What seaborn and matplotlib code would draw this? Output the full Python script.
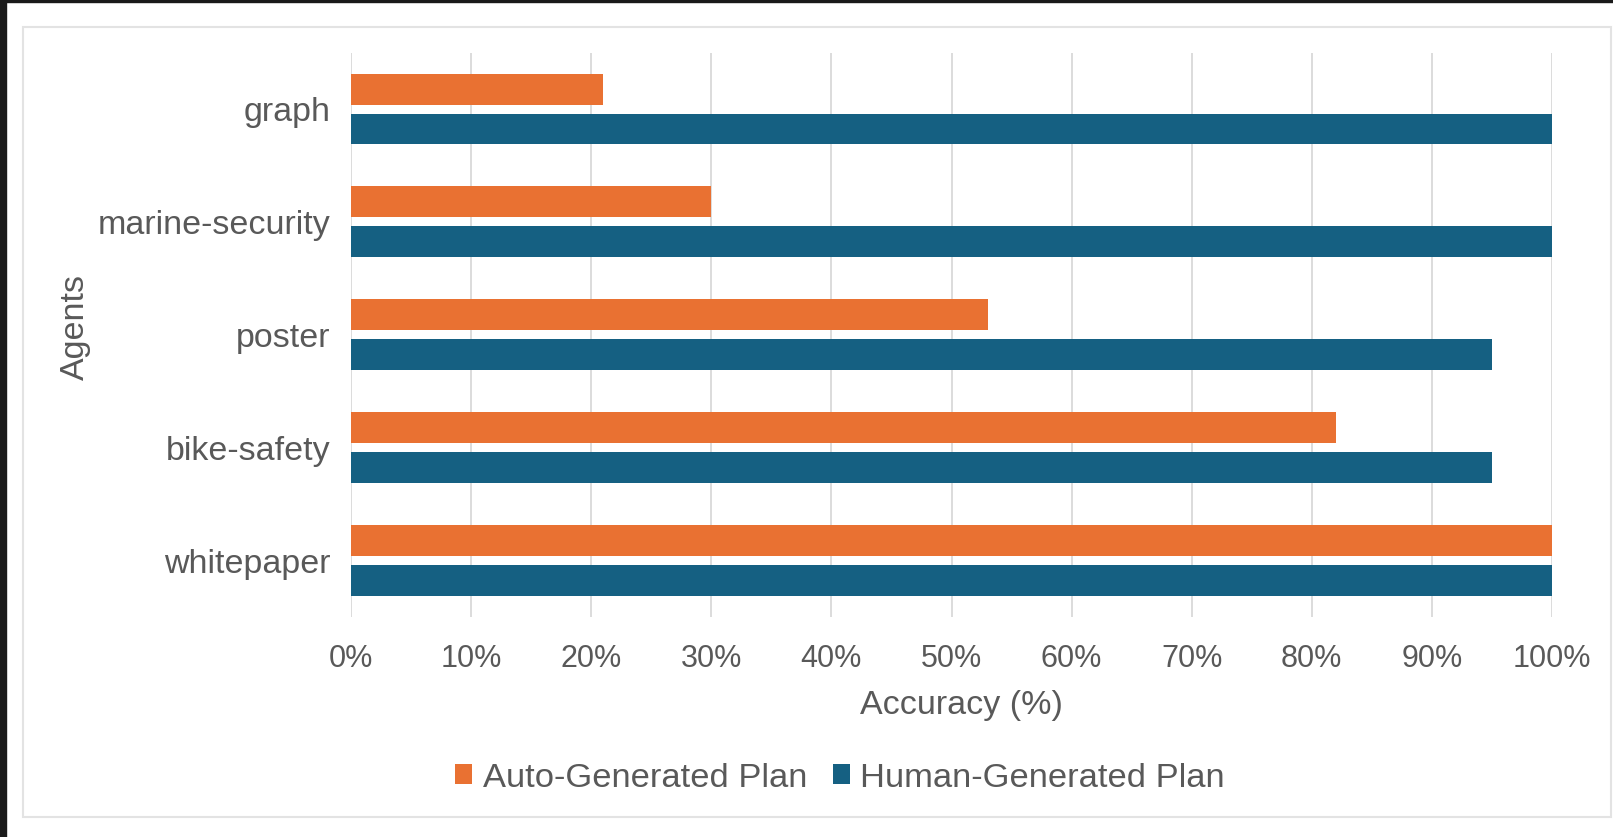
import matplotlib
matplotlib.use("Agg")
import matplotlib.pyplot as plt
import seaborn as sns
import pandas as pd
from matplotlib.patches import Rectangle
from matplotlib.ticker import FuncFormatter

agents = ["graph", "marine-security", "poster", "bike-safety", "whitepaper"]
auto_plan = [21, 30, 53, 82, 100]
human_plan = [100, 100, 95, 95, 100]
series_names = ["Auto-Generated Plan", "Human-Generated Plan"]
x_ticks = [0, 10, 20, 30, 40, 50, 60, 70, 80, 90, 100]

df = pd.DataFrame({
    "Agent": agents * 2,
    "Accuracy": auto_plan + human_plan,
    "Plan": [series_names[0]] * len(agents) + [series_names[1]] * len(agents),
})

sns.set_theme(style="white")
plt.rcParams["font.family"] = ["Liberation Sans", "DejaVu Sans"]
TXT = "#595959"

W, H = 1613, 837
fig = plt.figure(figsize=(W / 100, 8.374), dpi=100)
fig.patch.set_facecolor("white")

# dark frame strips and light panel border
fig.patches.append(Rectangle((0, 0), 6 / W, 1, transform=fig.transFigure, color="#1a1a1a", zorder=0))
fig.patches.append(Rectangle((0, 1 - 2 / H), 1, 2 / H, transform=fig.transFigure, color="#1a1a1a", zorder=0))
fig.patches.append(Rectangle((23 / W, (H - 817) / H), (1611 - 23) / W, (817 - 27) / H,
                             transform=fig.transFigure, facecolor="none",
                             edgecolor="#E3E3E3", lw=1.5, zorder=0))

x0, x1 = 351, 1552
y0, y1 = 53, 617
ax = fig.add_axes([x0 / W, (H - y1) / H, (x1 - x0) / W, (y1 - y0) / H])

sns.barplot(data=df, y="Agent", x="Accuracy", hue="Plan", order=agents,
            hue_order=series_names, palette=["#E97132", "#156082"],
            orient="h", width=0.708, gap=0.226, ax=ax, saturation=1,
            edgecolor="none", linewidth=0)

ax.set_xlim(0, 100)
ax.set_ylim(4.5, -0.5)
ax.set_xticks(x_ticks)
ax.xaxis.set_major_formatter(FuncFormatter(lambda v, p: f"{v:.0f}%"))
ax.grid(axis="x", color="#D9D9D9", lw=1.3)
ax.set_axisbelow(True)
for s in ax.spines.values():
    s.set_visible(False)

ax.tick_params(axis="x", length=0, pad=19, labelsize=22, labelcolor=TXT)
ax.tick_params(axis="y", length=0, pad=15, labelsize=24.5, labelcolor=TXT)
ax.set_xlabel("Accuracy (%)", fontsize=24.5, color=TXT)
ax.set_ylabel("Agents", fontsize=24.5, color=TXT)
ax.yaxis.set_label_coords((91 - x0) / (x1 - x0), (y1 - 327) / (y1 - y0))
ax.xaxis.set_label_coords((961 - x0) / (x1 - x0), (y1 - 690) / (y1 - y0))

sns.move_legend(ax, "center", bbox_to_anchor=(840 / W, (H - 778) / H),
                bbox_transform=fig.transFigure, ncol=2, frameon=False,
                title=None, fontsize=24.8, handlelength=0.5, handleheight=0.5,
                handletextpad=0.3, columnspacing=0.75, labelcolor=TXT)

fig.savefig("out.png", dpi=100, facecolor="white")
